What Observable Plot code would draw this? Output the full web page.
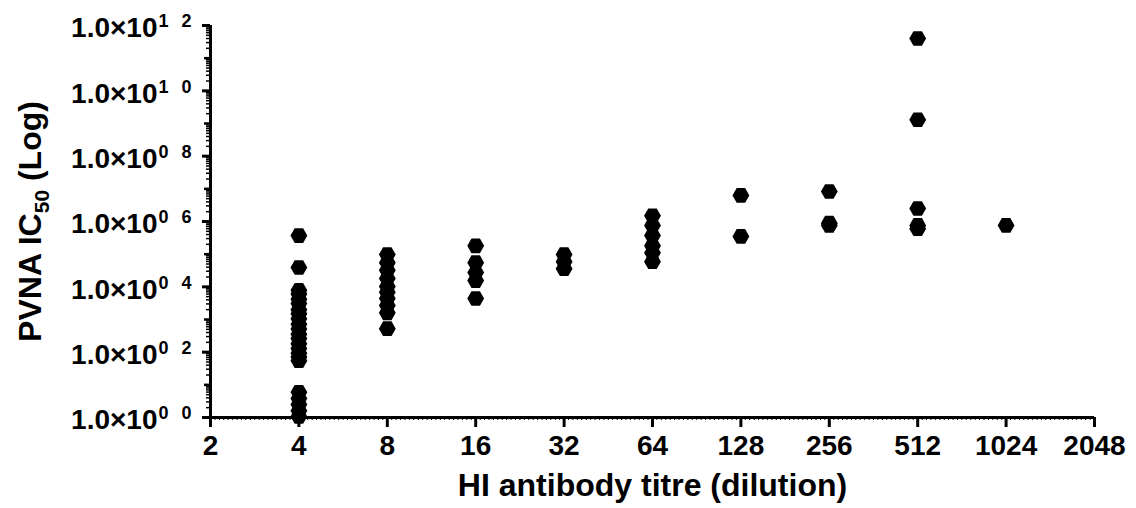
<!DOCTYPE html>
<html><head><meta charset="utf-8">
<script src="https://cdn.jsdelivr.net/npm/d3@7"></script>
<script src="https://cdn.jsdelivr.net/npm/@observablehq/plot@0.6"></script>
<style>body{margin:0;background:#fff;}</style>
</head><body><div id="chart"></div>
<script>
// HI antibody titre categories (x) and PVNA IC50 values (y)
const titres = [4, 8, 16, 32, 64, 128, 256, 512, 1024];
const ic50At4 = [3.7e5, 3.9e4, 7.8e3, 6.0e3, 4.2e3, 3.1e3, 2.0e3, 1.5e3, 1.05e3, 720, 510, 355, 263, 182, 129, 93, 71, 55, 5.9, 3.8, 2.5, 1.6, 1.07];
const ic50At8 = [9.8e4, 5.5e4, 3.2e4, 1.8e4, 1.02e4, 6.8e3, 4.4e3, 2.7e3, 1.6e3, 525];
const ic50At16 = [1.8e5, 5.5e4, 2.75e4, 1.55e4, 4.4e3];
const ic50At32 = [9.8e4, 5.9e4, 3.6e4];
const ic50At64 = [1.5e6, 7.6e5, 3.7e5, 1.8e5, 1.1e5, 5.9e4];
const ic50At128 = [6.3e6, 3.5e5];
const ic50At256 = [8.3e6, 8.9e5, 7.6e5];
const ic50At512 = [4.0e11, 1.3e9, 2.5e6, 7.6e5, 6.0e5];
const ic50At1024 = [7.6e5];
const series = [ic50At4, ic50At8, ic50At16, ic50At32, ic50At64, ic50At128, ic50At256, ic50At512, ic50At1024];

// Axis ticks and labels
const xTicks = [2, 4, 8, 16, 32, 64, 128, 256, 512, 1024, 2048];
const yTicks = [1, 1e2, 1e4, 1e6, 1e8, 1e10, 1e12];
const yMantissa = "1.0×10";
const yExpTens = ["0", "0", "0", "0", "0", "1", "1"];
const yExpOnes = ["0", "2", "4", "6", "8", "0", "2"];
const xLabel = "HI antibody titre (dilution)";
const yLabel = "PVNA IC50 (Log)";

const points = [];
titres.forEach((t, i) => series[i].forEach(v => points.push({titre: t, ic50: v})));

const minorX = d3.range(20, 220).map(k => Math.pow(2, k / 20)).filter(v => v < 2048);
const midY = [10, 1e3, 1e5, 1e7, 1e9, 1e11];
const minorY = [];
for (let e = 0; e < 12; e++) for (let m = 2; m <= 9; m++) minorY.push(m * Math.pow(10, e));

const font = "'Liberation Sans', Arial, sans-serif";
const chart = Plot.plot({
  width: 1136, height: 508,
  marginLeft: 210, marginRight: 42, marginTop: 25, marginBottom: 91,
  style: {fontFamily: font, background: "#fff", color: "#000"},
  x: {type: "log", base: 2, domain: [2, 2048], axis: null, label: null},
  y: {type: "log", domain: [1, 1e12], axis: null, label: null},
  marks: [
    Plot.axisX({ticks: minorX, tickSize: 3, tickFormat: () => "", strokeWidth: 1, label: null}),
    Plot.axisX({ticks: xTicks, tickSize: 10, tickPadding: 8, tickFormat: d => String(d), fontSize: 28, fontWeight: "bold", strokeWidth: 3, label: null}),
    Plot.axisY({ticks: minorY, tickSize: 4, tickFormat: () => "", strokeWidth: 1.5, label: null}),
    Plot.axisY({ticks: midY, tickSize: 6, tickFormat: () => "", strokeWidth: 2.5, label: null}),
    Plot.axisY({ticks: yTicks, tickSize: 8, tickFormat: () => "", strokeWidth: 3, label: null}),
    Plot.ruleX([2], {strokeWidth: 3}),
    Plot.ruleY([1], {strokeWidth: 3}),
    Plot.text(yTicks, {y: d => d, text: () => yMantissa, frameAnchor: "left", dx: -53, dy: 3, textAnchor: "end", fontSize: 28, fontWeight: "bold"}),
    Plot.text(yTicks, {y: d => d, text: (d, i) => yExpTens[i], frameAnchor: "left", dx: -52, dy: -4, textAnchor: "start", fontSize: 18, fontWeight: "bold"}),
    Plot.text(yTicks, {y: d => d, text: (d, i) => yExpOnes[i], frameAnchor: "left", dx: -29, dy: -4, textAnchor: "start", fontSize: 18, fontWeight: "bold"}),
    Plot.dot(points, {x: "titre", y: "ic50", symbol: "hexagon", r: 7.3, fill: "#000", rotate: 90}),
    Plot.text([xLabel], {frameAnchor: "bottom", lineAnchor: "middle", dy: 68, fontSize: 32, fontWeight: "bold"}),
    Plot.text([yLabel], {frameAnchor: "left", lineAnchor: "middle", textAnchor: "middle", rotate: -90, dx: -180, fontSize: 32, fontWeight: "bold"})
  ]
});

d3.select(chart).selectAll("text").filter(function() { return this.textContent === yLabel; }).each(function() {
  const t = d3.select(this);
  t.text(null);
  t.append("tspan").text("PVNA IC");
  t.append("tspan").attr("dy", 8).attr("font-size", 21).text("50");
  t.append("tspan").attr("dy", -8).text(" (Log)");
});

document.getElementById("chart").appendChild(chart);
</script>
</body></html>
